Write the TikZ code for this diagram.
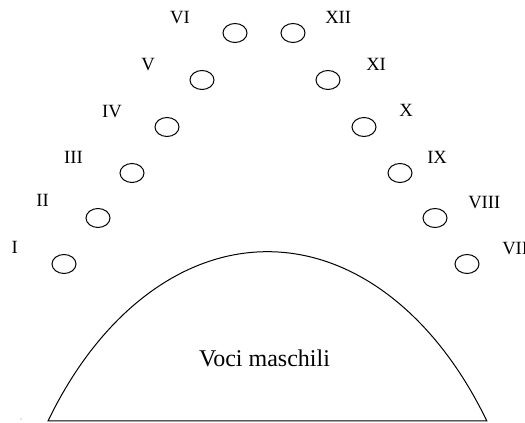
\documentclass[tikz,border=0pt]{standalone}
\usepackage{fontspec}
\setmainfont{Liberation Serif}
\usetikzlibrary{shapes.geometric}

\begin{document}
\begin{tikzpicture}[x=0.75pt, y=-0.75pt,
		seat/.style={ellipse, draw, line width=0.75pt, inner sep=0pt, minimum width=18pt, minimum height=14.25pt},
		num/.style={inner sep=0pt, font=\fontsize{14}{16}\selectfont}]
		\useasboundingbox (0,0) rectangle (525,423);
		
		% left row
		\node[seat] (s1) at (64,264) {};
		\node[seat] (s2) at (98,218) {};
		\node[seat] (s3) at (132,173) {};
		\node[seat] (s4) at (167,127) {};
		\node[seat] (s5) at (202,80) {};
		\node[seat] (s6) at (235,33) {};
		% right row
		\node[seat] (s7) at (467,264) {};
		\node[seat] (s8) at (435,218) {};
		\node[seat] (s9) at (400,173) {};
		\node[seat] (s10) at (364,127) {};
		\node[seat] (s11) at (328,80) {};
		\node[seat] (s12) at (293,33) {};
		
		\node[num, anchor=base east] (l1) at (18,254) {I};
		\node[num, anchor=base east] (l2) at (49,207) {II};
		\node[num, anchor=base east] (l3) at (83,164) {III};
		\node[num, anchor=base east] (l4) at (122,118) {IV};
		\node[num, anchor=base east] (l5) at (155,71) {V};
		\node[num, anchor=base east] (l6) at (190,24) {VI};
		\node[num, anchor=base west] (l7) at (502,255) {VII};
		\node[num, anchor=base west] (l8) at (468,209) {VIII};
		\node[num, anchor=base west] (l9) at (427,164) {IX};
		\node[num, anchor=base west] (l10) at (399,117) {X};
		\node[num, anchor=base west] (l11) at (366,71) {XI};
		\node[num, anchor=base west] (l12) at (325,24) {XII};
		
		% the choir
		\coordinate (bl) at (48,421);
		\draw[line width=0.75pt] (bl) arc[start angle=143.7, end angle=36.3, x radius=204.2pt, y radius=311.25pt] -- cycle;
		\node[inner sep=0pt, anchor=base, font=\fontsize{18}{20}\selectfont] (voci) at (264.5,367) {Voci maschili};
		
		\fill[black!45] (21,419) circle (0.6);
		
	\end{tikzpicture}
\end{document}
